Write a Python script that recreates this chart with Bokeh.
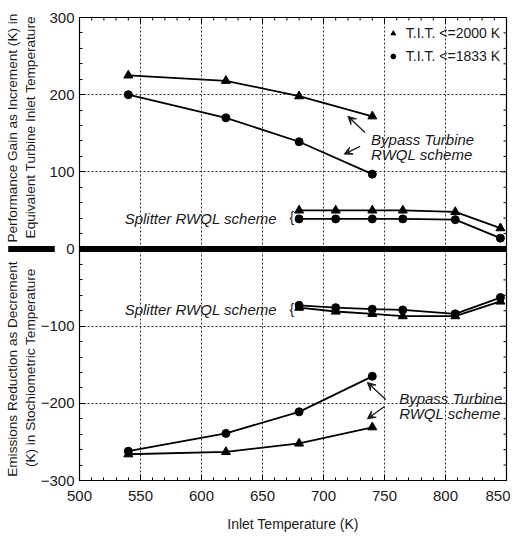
import math
from bokeh.plotting import figure
from bokeh.models import (Label, Arrow, VeeHead, Range1d, FixedTicker,
                          Legend, LegendItem, Span)
from bokeh.embed import file_html
from bokeh.resources import INLINE

# ---- data ----
bypass_x = [540, 620, 680, 740]
perf_bypass_2000 = [225, 218, 198, 172]
perf_bypass_1833 = [200, 170, 139, 97]
splitter_x = [680, 710, 740, 765, 808, 845]
perf_split_2000 = [50, 50, 50, 50, 48, 27]
perf_split_1833 = [39, 39, 39, 39, 38, 14]
emis_bypass_2000 = [-266, -263, -252, -231]
emis_bypass_1833 = [-262, -239, -211, -165]
emis_split_2000 = [-76, -81, -84, -87, -87, -68]
emis_split_1833 = [-73, -76, -78, -79, -84, -63]

x_ticks = [500, 550, 600, 650, 700, 750, 800, 850]
y_ticks = [-300, -200, -100, 0, 100, 200, 300]
x_minor = list(range(500, 851, 10))
y_minor = list(range(-300, 301, 20))
legend_labels = ["T.I.T. <=2000 K", "T.I.T. <=1833 K"]
upper_title = ["Performance Gain as Increment (K) in", "Equivalent Turbine Inlet Temperature"]
lower_title = ["Emissions Reduction as Decrement", "(K) in Stochiometric Temperature"]

FONT = "Liberation Sans"
TXT = "#1a1a1a"

X0, X1, Y0, Y1 = 500, 850, -300, 300
FRAME_TOP, FRAME_H = 17, 463

# --- build the two-part y title as one axis label (lower half, gap, upper half) ---
W = {' ': 278, '(': 333, ')': 333, 'A': 667, 'B': 667, 'C': 722, 'D': 722, 'E': 667,
     'F': 611, 'G': 778, 'H': 722, 'I': 278, 'K': 667, 'L': 556, 'P': 667, 'R': 722,
     'S': 667, 'T': 611, 'a': 556, 'b': 556, 'c': 500, 'd': 556, 'e': 556, 'f': 278,
     'g': 556, 'h': 556, 'i': 222, 'j': 222, 'k': 500, 'l': 222, 'm': 833, 'n': 556,
     'o': 556, 'p': 556, 'q': 556, 'r': 333, 's': 500, 't': 278, 'u': 556, 'v': 500,
     'w': 722, 'x': 500, 'y': 500, 'z': 500}
TITLE_PX = 13.6

def tw(s):
    return sum(W.get(c, 556) for c in s) * TITLE_PX / 1000.0

NB = "\u00a0"
nb_w = 278 * TITLE_PX / 1000.0

def to_px(v):
    return FRAME_TOP + (Y1 - v) / (Y1 - Y0) * FRAME_H

C = FRAME_TOP + FRAME_H / 2.0
U_c = to_px(156)    # centre of upper block
L_c = to_px(-156)   # centre of lower block

lines = []
for lo, up in zip(lower_title, upper_title):
    a, b = tw(lo), tw(up)
    gap = (L_c - U_c) - (a + b) / 2.0
    n_gap = max(1, int(round(gap / nb_w)))
    g = n_gap * nb_w
    tot = a + g + b
    d = L_c - (C + tot / 2.0 - a / 2.0)
    n_pad = int(round(abs(2 * d) / nb_w))
    if d > 0:
        lines.append(lo + NB * n_gap + up + NB * n_pad)
    else:
        lines.append(NB * n_pad + lo + NB * n_gap + up)
y_title = "\n".join(lines)

p = figure(width=510, height=536, output_backend="svg", toolbar_location=None,
           x_range=Range1d(X0, X1), y_range=Range1d(Y0, Y1),
           min_border_left=79, min_border_right=4, min_border_top=FRAME_TOP,
           min_border_bottom=536 - FRAME_TOP - FRAME_H)
p.outline_line_color = "black"
p.outline_line_width = 1.2
p.background_fill_color = "white"

for ax in (p.xaxis[0], p.yaxis[0]):
    ax.major_tick_in = 6
    ax.major_tick_out = 0
    ax.minor_tick_in = 3
    ax.minor_tick_out = 0
    ax.major_tick_line_color = "black"
    ax.minor_tick_line_color = "black"
    ax.axis_line_color = "black"
    ax.major_label_text_font = FONT
    ax.major_label_text_font_size = "15px"
    ax.major_label_text_color = TXT

p.xaxis[0].ticker = FixedTicker(ticks=x_ticks, minor_ticks=x_minor)
p.yaxis[0].ticker = FixedTicker(ticks=y_ticks, minor_ticks=y_minor)
p.xaxis[0].axis_label = "Inlet Temperature (K)"
p.xaxis[0].axis_label_text_font = FONT
p.xaxis[0].axis_label_text_font_style = "normal"
p.xaxis[0].axis_label_text_font_size = "14px"
p.xaxis[0].axis_label_text_color = TXT
p.xaxis[0].axis_label_standoff = 12
p.xaxis[0].major_label_standoff = 10
p.yaxis[0].major_label_standoff = 5
p.yaxis[0].axis_label = y_title
p.yaxis[0].axis_label_text_font = FONT
p.yaxis[0].axis_label_text_font_style = "normal"
p.yaxis[0].axis_label_text_font_size = "%.1fpx" % TITLE_PX
p.yaxis[0].axis_label_text_line_height = 1.15
p.yaxis[0].axis_label_text_color = TXT
p.yaxis[0].axis_label_standoff = 0

# mirrored ticks on the right and top frame edges, from the tick lists
dx_px = (X1 - X0) / 427.0
dy_px = (Y1 - Y0) / FRAME_H
ry = list(y_minor)
p.segment(x0=[X1] * len(ry), y0=ry,
          x1=[X1 - (6 if y in y_ticks else 3) * dx_px for y in ry], y1=ry,
          line_color="black", line_width=1)
tx = list(x_minor)
p.segment(x0=tx, y0=[Y1] * len(tx), x1=tx,
          y1=[Y1 - (6 if x in x_ticks else 3) * dy_px for x in tx],
          line_color="black", line_width=1)

p.xgrid.ticker = FixedTicker(ticks=x_ticks[1:-1])
p.ygrid.ticker = FixedTicker(ticks=y_ticks[1:-1])
for g in (p.xgrid[0], p.ygrid[0]):
    g.grid_line_color = "#333333"
    g.grid_line_dash = "2 2"
    g.grid_line_width = 1

# thick zero line
p.add_layout(Span(location=0, dimension="width", line_color="black", line_width=6))

LW = 1.8

def series(xs, ys, marker):
    p.line(xs, ys, line_color="black", line_width=LW)
    return p.scatter(xs, ys, marker=marker, size=9 if marker == "triangle" else 8,
                     fill_color="black", line_color="black")

r_tri = series(bypass_x, perf_bypass_2000, "triangle")
r_cir = series(bypass_x, perf_bypass_1833, "circle")
series(splitter_x, perf_split_2000, "triangle")
series(splitter_x, perf_split_1833, "circle")
series(bypass_x, emis_bypass_2000, "triangle")
series(bypass_x, emis_bypass_1833, "circle")
series(splitter_x, emis_split_2000, "triangle")
series(splitter_x, emis_split_1833, "circle")

legend = Legend(items=[LegendItem(label=legend_labels[0], renderers=[r_tri]),
                       LegendItem(label=legend_labels[1], renderers=[r_cir])],
                location="top_right")
legend.border_line_color = None
legend.background_fill_alpha = 0
legend.label_text_font = FONT
legend.label_text_font_size = "14px"
legend.label_text_color = TXT
legend.glyph_width = 12
legend.spacing = 3
legend.margin = 6
legend.padding = 4
legend.label_standoff = 7
p.add_layout(legend)

def txt(x, y, t, align="left", size="15px", italic=True):
    p.add_layout(Label(x=x, y=y, text=t, text_font=FONT, text_font_size=size,
                       text_font_style="italic" if italic else "normal",
                       text_align=align, text_baseline="middle", text_color=TXT))

txt(739, 142, "Bypass Turbine")
txt(739, 123, "RWQL scheme")
txt(762, -194, "Bypass Turbine")
txt(762, -213, "RWQL scheme")
txt(537, 40, "Splitter RWQL scheme")
txt(537, -78, "Splitter RWQL scheme")
txt(674, 42, "{", align="center", size="14px", italic=False)
txt(674, -78, "{", align="center", size="14px", italic=False)

arrows = [((734, 151), (720, 172)), ((730, 133), (717, 123)),
          ((751, -195), (736, -173)), ((750, -204), (736, -220))]
for (x0, y0), (x1, y1) in arrows:
    p.add_layout(Arrow(x_start=x0, y_start=y0, x_end=x1, y_end=y1, line_width=1.3,
                       line_color=TXT,
                       end=VeeHead(size=8, line_color=TXT, fill_color=TXT, line_width=1)))

# thick bar beside the zero tick label (axis break marker), in a side panel so it is not clipped
bar_x = X0 + (31 - 79) * dx_px
p.add_layout(Label(x=bar_x, y=0, text=" ", text_font_size="2px",
                   text_align="center", text_baseline="middle",
                   background_fill_color="black", padding=(23, 2)), "above")

open("out.html", "w").write(file_html(p, INLINE))
